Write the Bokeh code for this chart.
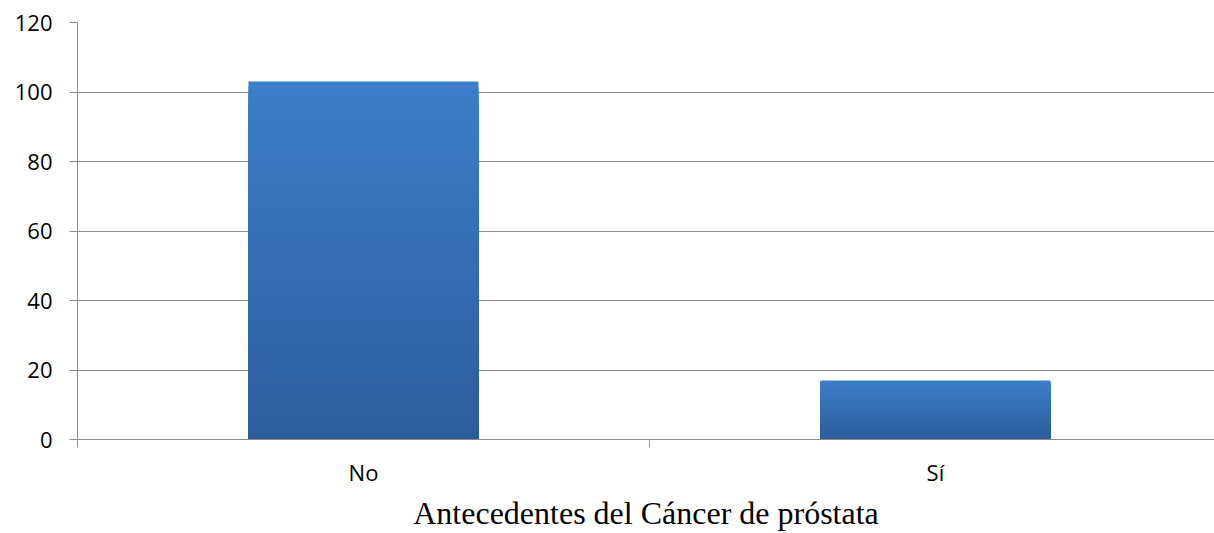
from bokeh.plotting import figure
from bokeh.models import Range1d, FixedTicker, ColumnDataSource
from bokeh.embed import file_html
from bokeh.resources import INLINE

categories = ["No", "Sí"]
values = [103, 17]
y_ticks = [0, 20, 40, 60, 80, 100, 120]
axis_title = "Antecedentes del Cáncer de próstata"

GRID = "#8C8C8C"
TOP_RGB = (61, 126, 202)
BOT_RGB = (45, 93, 155)
N_SLICES = 80
BAR_WIDTH = 0.402

p = figure(width=1214, height=533, output_backend="svg", toolbar_location=None,
           x_range=Range1d(0, 1.988), y_range=Range1d(0, 120),
           min_border_left=77, min_border_right=0, min_border_top=22,
           min_border_bottom=94)
p.outline_line_color = None
p.background_fill_color = "white"
p.border_fill_color = "white"

# bars with vertical gradient: overlapping stacks from the bar's base,
# tallest (lightest) first so each darker, shorter one sits on top
xs, bottoms, tops, colors = [], [], [], []
for i, (cat, v) in enumerate(zip(categories, values)):
    for k in range(N_SLICES - 1, -1, -1):
        t = (k + 0.5) / N_SLICES
        c = tuple(int(round(b + (tp - b) * t)) for b, tp in zip(BOT_RGB, TOP_RGB))
        xs.append(i + 0.5)
        bottoms.append(0)
        tops.append(v * (k + 1) / N_SLICES)
        colors.append("#%02x%02x%02x" % c)

src = ColumnDataSource(dict(x=xs, bottom=bottoms, top=tops, color=colors))
p.vbar(x="x", width=BAR_WIDTH, bottom="bottom", top="top", source=src,
       fill_color="color", line_color=None)

# y axis
p.yaxis.ticker = FixedTicker(ticks=y_ticks, minor_ticks=[])
p.yaxis.major_tick_out = 8
p.yaxis.major_tick_in = 0
p.yaxis.major_tick_line_color = GRID
p.yaxis.axis_line_color = GRID
p.yaxis.major_label_standoff = 17
p.yaxis.major_label_text_font = "Open Sans"
p.yaxis.major_label_text_font_size = "22px"
p.yaxis.major_label_text_color = "black"

# x axis (category boundaries as ticks, labels at centers)
p.xaxis.ticker = FixedTicker(ticks=[i + 0.5 for i in range(len(categories))],
                             minor_ticks=list(range(len(categories) + 1)))
p.xaxis.major_label_overrides = {i + 0.5: c for i, c in enumerate(categories)}
p.xaxis.major_tick_line_color = None
p.xaxis.major_tick_out = 8
p.xaxis.major_tick_in = 0
p.xaxis.minor_tick_out = 8
p.xaxis.minor_tick_in = 0
p.xaxis.minor_tick_line_color = GRID
p.xaxis.axis_line_color = GRID
p.xaxis.major_label_standoff = 9
p.xaxis.major_label_text_font = "Open Sans"
p.xaxis.major_label_text_font_size = "22px"
p.xaxis.major_label_text_color = "black"
p.xaxis.axis_label = axis_title
p.xaxis.axis_label_text_font = "Liberation Serif"
p.xaxis.axis_label_text_font_size = "32px"
p.xaxis.axis_label_text_font_style = "normal"
p.xaxis.axis_label_text_color = "black"
p.xaxis.axis_label_standoff = 5

p.xgrid.visible = False
p.ygrid.ticker = FixedTicker(ticks=y_ticks, minor_ticks=[])
p.ygrid.grid_line_color = GRID
p.ygrid.grid_line_width = 1

open("out.html", "w").write(file_html(p, INLINE))
